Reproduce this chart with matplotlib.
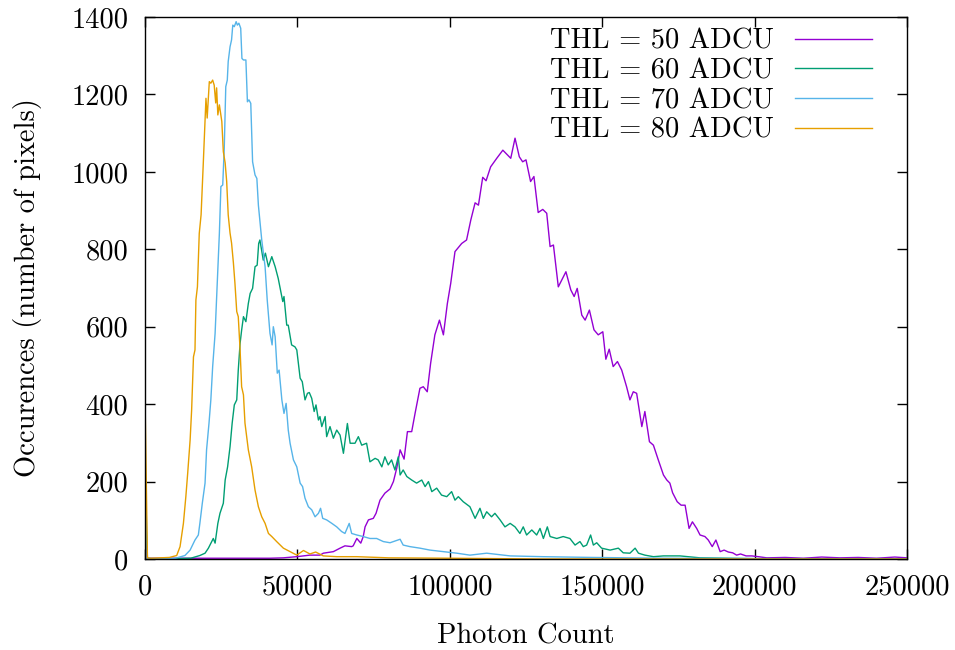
import matplotlib
matplotlib.use("Agg")
import matplotlib.pyplot as plt

plt.rcParams['font.family'] = 'serif'
plt.rcParams['font.serif'] = ['cmr10']
plt.rcParams['mathtext.fontset'] = 'cm'
plt.rcParams['axes.formatter.use_mathtext'] = True

# ---- data ----
labels = ["THL = 50 ADCU", "THL = 60 ADCU", "THL = 70 ADCU", "THL = 80 ADCU"]
colors = ["#9400d3", "#009e73", "#56b4e9", "#e69f00"]

x50 = [0, 750, 41000, 45400, 49800, 54100, 57400, 58500, 61800, 64000,
       65600, 67800, 68300, 69500, 70800, 71600, 72200, 73300, 74900, 75800,
       77100, 78700, 80400, 81500, 82600, 83700, 85000, 86100, 87500, 88600,
       90200, 91300, 92600, 93700, 95100, 96600, 97900, 99200, 100300, 101700,
       103900, 105500, 106900, 108300, 109400, 110800, 111900, 113400, 115400, 117400,
       120000, 121400, 122800, 123900, 125000, 126500, 127600, 129000, 130500, 131800,
       132900, 134000, 135600, 138100, 139700, 140800, 141800, 143300, 144400, 145800,
       147300, 148700, 150200, 151200, 152300, 153600, 155000, 156400, 158000, 159100,
       160200, 161300, 163000, 164000, 165500, 166800, 168400, 170100, 171200, 172200,
       173100, 174600, 175900, 177200, 178500, 179600, 181000, 182100, 183700, 184800,
       186100, 187300, 188700, 190000, 191400, 192800, 194100, 195400, 197200, 199100,
       201200, 204000, 210000, 216000, 222000, 228000, 234000, 240000, 246000, 250000]
y50 = [83, 2, 2, 3, 6, 10, 10, 15, 19, 28,
       34, 32, 34, 53, 41, 58, 83, 101, 105, 118,
       152, 170, 181, 200, 235, 282, 258, 329, 329, 376,
       441, 445, 432, 505, 579, 617, 579, 660, 712, 794,
       815, 824, 876, 920, 914, 986, 977, 1013, 1035, 1056,
       1035, 1087, 1039, 1026, 1031, 975, 988, 895, 903, 893,
       807, 811, 703, 742, 695, 678, 699, 630, 617, 643,
       592, 579, 587, 516, 542, 497, 510, 488, 445, 411,
       432, 428, 342, 381, 303, 294, 256, 217, 204, 196,
       171, 148, 139, 139, 79, 96, 79, 62, 58, 49,
       32, 49, 19, 23, 18, 16, 10, 13, 8, 8,
       6, 3, 4, 2, 5, 3, 4, 2, 5, 3]

x60 = [0, 800, 5000, 10000, 15000,
       18000, 19700, 20800, 21900, 22400, 23000, 23900, 24600, 25700, 26300,
       27100, 27900, 28600, 29300, 30100, 30600, 31200, 31700, 32300, 33100,
       33900, 34500, 35300, 36100, 36800, 37300, 37700, 38800, 39500, 40500,
       41600, 42700, 43700, 45200, 45600, 46500, 47000, 48100, 49200, 49800,
       50900, 51600, 52500, 53300, 53900, 54700, 55500, 56100, 56900, 57400,
       58000, 59100, 59600, 60700, 61800, 62900, 64000, 65100, 66400, 67300,
       68900, 70000, 71100, 72700, 73800, 75500, 76500, 77700, 78700, 79800,
       80900, 82000, 83100, 83700, 84700, 85900, 87500, 89100, 90800, 91900,
       93000, 94100, 95700, 97300, 99000, 100600, 101700, 102800, 104400, 106600,
       108300, 109900, 111000, 112100, 113700, 114800, 116500, 118100, 119800, 121400,
       123000, 124100, 125200, 126900, 128500, 129600, 130700, 132000, 132900, 135100,
       137200, 139400, 141100, 142700, 143800, 144900, 146200, 147100, 148200, 149800,
       152600, 155300, 156900, 159100, 160800, 161900, 164000, 166800, 170100, 175500,
       182100, 200000, 250000]
y60 = [150, 1, 0, 1, 2,
       9, 15, 28, 45, 53, 41, 92, 118, 144, 204,
       238, 290, 351, 398, 411, 488, 557, 591, 626, 613,
       660, 686, 699, 755, 759, 815, 824, 772, 790, 755,
       781, 755, 725, 665, 678, 604, 604, 553, 548, 540,
       467, 458, 411, 428, 430, 415, 381, 398, 359, 368,
       342, 368, 316, 342, 312, 333, 320, 273, 350, 299,
       299, 316, 294, 299, 251, 260, 256, 238, 264, 243,
       256, 230, 264, 217, 230, 213, 204, 196, 204, 187,
       200, 174, 183, 165, 161, 174, 152, 161, 148, 135,
       105, 131, 105, 122, 109, 118, 101, 83, 92, 83,
       66, 83, 62, 75, 62, 79, 53, 83, 58, 53,
       58, 53, 36, 45, 32, 36, 62, 36, 42, 28,
       23, 28, 16, 15, 28, 15, 10, 6, 8, 8,
       3, 1, 0]

x70 = [0, 800, 5000, 10000,
       13100, 14800, 16400, 17500, 18000, 18800, 19700, 20200, 21000, 21600,
       22200, 23000, 23700, 24400, 24900, 25500, 26000, 26500, 27000, 27300,
       27900, 28400, 28800, 29300, 29900, 30300, 30800, 31400, 31800, 32300,
       33100, 33600, 34100, 34700, 35300, 36100, 36700, 37200, 38300, 39400,
       40100, 41000, 41700, 42100, 42700, 43400, 44000, 44900, 45600, 46300,
       47000, 47600, 48700, 49800, 50900, 51700, 52500, 53600, 54700, 55800,
       56900, 57600, 58300, 59600, 61300, 62900, 64500, 65600, 67000, 67800,
       69500, 71600, 73800, 76000, 78200, 80400, 83700, 84700, 86900, 90200,
       93500, 97900, 102300, 106600, 112100, 119800, 130600, 147000, 170000, 200000,
       250000]
y70 = [240, 2, 1, 2,
       9, 23, 49, 62, 92, 144, 196, 282, 351, 411,
       497, 583, 712, 841, 962, 966, 1061, 1220, 1237, 1285,
       1323, 1341, 1379, 1375, 1388, 1379, 1384, 1371, 1293, 1289,
       1289, 1181, 1186, 1177, 1026, 992, 983, 914, 824, 755,
       669, 583, 553, 600, 574, 480, 488, 411, 376, 402,
       333, 299, 256, 238, 196, 187, 157, 135, 127, 109,
       118, 131, 105, 101, 92, 83, 71, 66, 92, 66,
       62, 58, 53, 53, 45, 42, 51, 36, 32, 28,
       23, 19, 15, 10, 15, 8, 6, 4, 2, 1,
       1]

x80 = [0, 800, 2000, 5000, 8000,
       10400, 11500, 12600, 13400, 14000, 14800, 15300, 15900, 16400, 16700,
       17200, 17800, 18400, 19100, 20000, 20400, 21100, 21600, 22200, 22700,
       23200, 23500, 23900, 24400, 25200, 25700, 26300, 26800, 27000, 27300,
       27900, 28400, 29000, 29500, 30100, 30600, 31200, 31700, 32300, 32800,
       33900, 35000, 36100, 37200, 38300, 39400, 40500, 41600, 43200, 45400,
       47600, 49800, 52000, 54100, 56000, 58500, 62900, 69500, 80000, 100000,
       130000, 250000]
y80 = [420, 3, 2, 3, 4,
       9, 32, 92, 161, 221, 307, 385, 522, 540, 669,
       703, 841, 889, 1018, 1190, 1139, 1233, 1229, 1237, 1224,
       1178, 1217, 1147, 1173, 1130, 1052, 1023, 975, 940, 889,
       842, 816, 765, 713, 639, 626, 540, 445, 424, 351,
       282, 238, 178, 135, 109, 92, 66, 58, 45, 28,
       19, 10, 22, 13, 18, 8, 6, 6, 3, 2,
       0, 0]

xticks = [0, 50000, 100000, 150000, 200000, 250000]
yticks = [0, 200, 400, 600, 800, 1000, 1200, 1400]

# ---- figure ----
FS = 20.5
fig = plt.figure(figsize=(9.55, 6.5), dpi=100)
ax = fig.add_axes([145/955, 91/650, 762/955, 542/650])

series = [(x50, y50), (x60, y60), (x70, y70), (x80, y80)]
for (xs, ys), lab, col in zip(series, labels, colors):
    ax.plot(xs, ys, color=col, lw=1.0, label=lab)

ax.set_xlim(0, 250000)
ax.set_ylim(0, 1400)
ax.set_xticks(xticks)
ax.set_yticks(yticks)
ax.set_xticklabels([str(t) for t in xticks])
ax.set_yticklabels([str(t) for t in yticks])
ax.tick_params(axis='both', direction='in', top=True, right=True, length=7,
               width=1.0, labelsize=FS)
ax.tick_params(axis='x', pad=11)
ax.tick_params(axis='y', pad=12)
for s in ax.spines.values():
    s.set_linewidth(1.0)

ax.set_xlabel("Photon Count", fontsize=FS, labelpad=16)
ax.set_ylabel("Occurences (number of pixels)", fontsize=FS, labelpad=21)

leg = ax.legend(loc='upper right', frameon=False, fontsize=FS, markerfirst=False,
                handlelength=2.7, handletextpad=0.75, labelspacing=0.12,
                borderaxespad=0.0, bbox_to_anchor=(0.969, 1.0))

fig.savefig("out.png", dpi=100)
